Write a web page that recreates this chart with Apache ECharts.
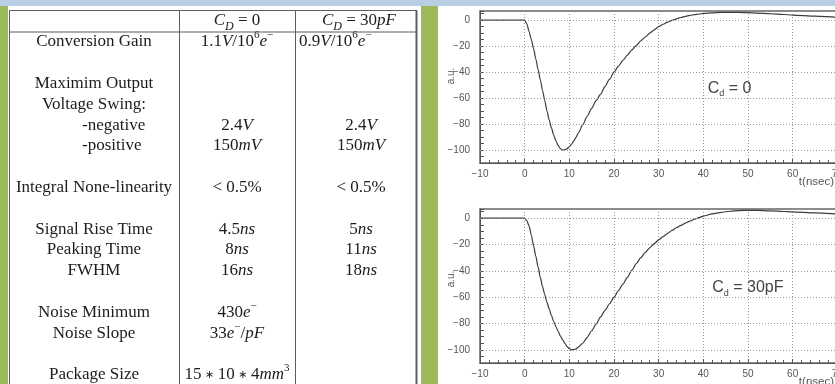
<!DOCTYPE html>
<html>
<head>
<meta charset="utf-8">
<script src="https://cdn.jsdelivr.net/npm/echarts@6/dist/echarts.min.js"></script>
<style>
  html, body { margin: 0; padding: 0; background: #ffffff; }
  #main { width: 835px; height: 384px; }
</style>
</head>
<body>
<div id="main"></div>
<script>
// ---- Preamplifier characteristics (table) ----
const columnHeaders = ['{i|C}{isub|D} = 0', '{i|C}{isub|D} = 30{i|pF}'];
const paramNames = ['Conversion Gain', '', 'Maximim Output', 'Voltage Swing:', '-negative', '-positive', '',
  'Integral None-linearity', '', 'Signal Rise Time', 'Peaking Time', 'FWHM', '',
  'Noise Minimum', 'Noise Slope', '', 'Package Size'];
const valuesCd0 = ['1.1{i|V}/10{sup|6}{i|e}{sup|−}', '', '', '', '2.4{i|V}', '150{i|mV}', '',
  '< 0.5%', '', '4.5{i|ns}', '8{i|ns}', '16{i|ns}', '',
  '430{i|e}{sup|−}', '33{i|e}{sup|−}/{i|pF}', '', '15{op| ∗ }10{op| ∗ }4{i|mm}{sup|3}'];
const valuesCd30 = ['0.9{i|V}/10{sup|6}{i|e}{sup|−}', '', '', '', '2.4{i|V}', '150{i|mV}', '',
  '< 0.5%', '', '5{i|ns}', '11{i|ns}', '18{i|ns}', '',
  '', '', '', ''];

// ---- Pulse response (time in ns, amplitude in a.u.) ----
const timeNs = [-10, -5, 0, 0.5, 1, 1.5, 2, 2.5, 3, 3.5, 4, 4.5, 5, 5.5, 6, 6.5, 7, 7.5, 8, 8.5, 9, 9.5, 10, 10.5, 11, 11.5, 12,
  13, 14, 15, 16, 17, 18, 19, 20, 21, 22, 23, 24, 25, 26, 27, 28, 29, 30, 31, 32, 33, 34, 35, 36, 37, 38, 39, 40,
  42, 44, 46, 48, 50, 52, 55, 58, 60, 65, 70, 75, 80];
const pulseCd0 = [0, 0, 0, -3, -9, -15, -22, -30, -38, -46, -54, -62, -70, -77, -83, -88.5, -93, -96.5, -99, -100, -99.8, -99, -97.5, -95.5, -93, -90.2, -87,
  -80.5, -74, -68, -62, -57, -51, -45.5, -40, -35.5, -31, -27, -23, -19.5, -16, -13, -10, -7.5, -5, -3.2, -1.6, -0.2, 1, 2, 2.9, 3.6, 4.2, 4.7, 5.1,
  5.6, 5.9, 6, 5.9, 5.7, 5.4, 4.9, 4.3, 3.9, 3, 2.2, 1.6, 1.1];
const pulseCd30 = [0, 0, 0, -2, -6, -13, -21, -29, -37, -45, -52, -58, -64, -69, -74, -78.5, -82.5, -86, -89.5, -92.5, -95, -97.5, -99, -100, -99.8, -99.2, -98,
  -95, -90.5, -85.5, -80.5, -75, -70, -65, -60, -55, -50, -45, -39.5, -34.5, -30, -26, -22.5, -19.3, -16.5, -14, -11.5, -9.3, -7.2, -5.4, -3.7, -2.2, -0.8, 0.5, 1.6,
  3.3, 4.5, 5.3, 5.8, 6, 5.9, 5.6, 5.1, 4.8, 4, 3.3, 2.7, 2.2];

const yTickValues = [0, -20, -40, -60, -80, -100];
const panelLabels = ['{c|C}{s|d}{c| = 0}', '{c|C}{s|d}{c| = 30pF}'];
const axisNameX = 't(nsec)';
const axisNameY = 'a.u.';

// ---- Page decoration and table graphics ----
const serif = 'Liberation Serif';
const sans = 'Liberation Sans';
const ink = '#1c1c1c';
const rule = '#5c5c5c';

const texRich = {
  i: { fontFamily: serif, fontSize: 17, fontStyle: 'italic', lineHeight: 24, fill: ink, color: ink },
  op: { fontFamily: 'DejaVu Sans', fontSize: 11, lineHeight: 24, fill: ink, color: ink },
  isub: { fontFamily: serif, fontSize: 12, fontStyle: 'italic', lineHeight: 16, verticalAlign: 'bottom', fill: ink, color: ink },
  sup: { fontFamily: serif, fontSize: 11, lineHeight: 14, verticalAlign: 'top', fill: ink, color: ink }
};

function texText(str, x, y, align) {
  return {
    type: 'text',
    silent: true,
    style: {
      text: str, x: x, y: y, align: align, verticalAlign: 'middle',
      fontFamily: serif, fontSize: 17, lineHeight: 24, fill: ink,
      rich: texRich
    }
  };
}

function hLine(x1, x2, y, w) {
  return { type: 'line', silent: true, shape: { x1: x1, y1: y, x2: x2, y2: y }, style: { stroke: rule, lineWidth: w || 1 } };
}
function vLine(x, y1, y2, w) {
  return { type: 'line', silent: true, shape: { x1: x, y1: y1, x2: x, y2: y2 }, style: { stroke: rule, lineWidth: w || 1 } };
}

const graphics = [
  { type: 'rect', silent: true, shape: { x: 0, y: 0, width: 835, height: 6 }, style: { fill: '#b9cde5' } },
  { type: 'rect', silent: true, shape: { x: 0, y: 6, width: 8, height: 378 }, style: { fill: '#9bbb59' } },
  { type: 'rect', silent: true, shape: { x: 421, y: 6, width: 17, height: 378 }, style: { fill: '#9bbb59' } },
  hLine(9.5, 417, 10.5),
  hLine(9.5, 417, 32),
  vLine(9.5, 10.5, 384),
  vLine(179.5, 10.5, 384),
  vLine(295.5, 10.5, 384),
  vLine(416.5, 10.5, 384, 2)
];

const labelCenter = 94, col1Center = 237, col2Center = 357;
graphics.push(texText(columnHeaders[0], col1Center, 21, 'center'));
graphics.push(texText(columnHeaders[1], col2Center + 2, 21, 'center'));
paramNames.forEach(function (name, k) {
  const y = 42 + 20.8 * k;
  if (name) {
    // sub-items of the voltage swing are indented rather than centred
    if (name.charAt(0) === '-') graphics.push(texText(name, 82, y, 'left'));
    else graphics.push(texText(name, labelCenter, y, 'center'));
  }
  if (valuesCd0[k]) graphics.push(texText(valuesCd0[k], col1Center, y, 'center'));
  if (valuesCd30[k]) {
    if (k === 0) graphics.push(texText(valuesCd30[k], 299, y, 'left'));
    else graphics.push(texText(valuesCd30[k], col2Center + 4, y, 'center'));
  }
});

// axis captions of the two pulse plots
[182, 382].forEach(function (y) {
  graphics.push({ type: 'text', silent: true,
    style: { text: axisNameX, x: 834, y: y, align: 'right', verticalAlign: 'middle', fontFamily: sans, fontSize: 11.5, fill: '#555' } });
});
[76, 279].forEach(function (y) {
  graphics.push({ type: 'text', silent: true, x: 451, y: y, rotation: Math.PI / 2,
    style: { text: axisNameY, x: 0, y: 0, align: 'center', verticalAlign: 'middle', fontFamily: sans, fontSize: 10, fill: '#555' } });
});

// ---- Pulse plots ----
const gridBoxes = [
  { left: 480, top: 11, width: 402, height: 152 },
  { left: 480, top: 209, width: 402, height: 154 }
];
const minus = function (v) { return String(v).replace('-', '−'); };

const xAxes = gridBoxes.map(function (g, i) {
  return {
    type: 'value', gridIndex: i, min: -10, max: 80, interval: 10,
    axisLine: { show: true, onZero: false, lineStyle: { color: '#555', width: 1 } },
    axisTick: { show: true, inside: true, length: 4, lineStyle: { color: '#555' } },
    minorTick: { show: true, splitNumber: 5, length: 3, lineStyle: { color: '#555' } },
    axisLabel: { margin: 6, color: '#555', fontFamily: sans, fontSize: 10, formatter: minus, showMaxLabel: false },
    splitLine: { show: true, lineStyle: { color: '#9a9a9a', width: 1, type: [1, 2] } }
  };
});
const yAxes = gridBoxes.map(function (g, i) {
  return {
    type: 'value', gridIndex: i, min: -110, max: 7, interval: 5,
    axisLine: { show: true, onZero: false, lineStyle: { color: '#555', width: 1 } },
    axisTick: { show: true, inside: true, length: 4, lineStyle: { color: '#555' } },
    axisLabel: { margin: 10, color: '#555', fontFamily: sans, fontSize: 10,
      formatter: function (v) { return yTickValues.indexOf(v) >= 0 ? minus(v) : ''; } },
    splitLine: { show: false }
  };
});

function pulseSeries(values, i) {
  return {
    type: 'line', xAxisIndex: i, yAxisIndex: i,
    data: timeNs.map(function (t, k) { return [t, values[k]]; }),
    showSymbol: false, smooth: 0.25, smoothMonotone: 'x',
    lineStyle: { color: '#3c3c3c', width: 1.2 },
    markLine: {
      silent: true, symbol: ['none', 'none'], animation: false,
      label: { show: false },
      lineStyle: { color: '#9a9a9a', width: 1, type: [1, 2] },
      data: yTickValues.map(function (v) { return { yAxis: v }; })
    },
    markPoint: {
      silent: true, symbol: 'circle', symbolSize: 0, animation: false,
      data: [{ coord: i === 0 ? [41, -52.5] : [42, -53] }],
      label: {
        show: true, position: 'right', distance: 0,
        formatter: panelLabels[i],
        rich: {
          c: { fontFamily: sans, fontSize: 16, color: '#444', lineHeight: 20 },
          s: { fontFamily: sans, fontSize: 9, color: '#444', lineHeight: 13, verticalAlign: 'bottom' }
        }
      }
    }
  };
}

const chart = echarts.init(document.getElementById('main'));
chart.setOption({
  animation: false,
  backgroundColor: '#ffffff',
  grid: gridBoxes.map(function (g) {
    return Object.assign({ show: true, borderColor: '#666', borderWidth: 1.5, backgroundColor: 'transparent',
      containLabel: false, outerBoundsMode: 'none' }, g);
  }),
  xAxis: xAxes,
  yAxis: yAxes,
  series: [pulseSeries(pulseCd0, 0), pulseSeries(pulseCd30, 1)],
  graphic: { elements: graphics }
});
</script>
</body>
</html>
